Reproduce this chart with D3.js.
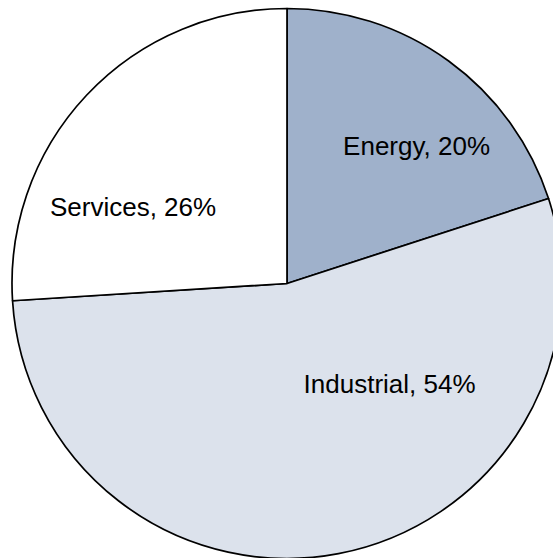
<!DOCTYPE html>
<html>
<head>
<meta charset="utf-8">
<script src="https://cdn.jsdelivr.net/npm/d3@7"></script>
<style>
    html, body { margin: 0; padding: 0; background: #fff; }
    svg { display: block; }
</style>
</head>
<body>
<div id="chart"></div>
<script>
// chart data
var categories = ["Energy", "Industrial", "Services"];
var shares = [20, 54, 26];
var colors = ["#9fb1cb", "#dce2ec", "#ffffff"];

// label placement inside each slice: angle (deg, clockwise from 12 o'clock) and fraction of radius
var labelAngles = [43.3, 134.4, 296.4];
var labelRadii = [0.687, 0.522, 0.625];

function init() {
    const w = 553;
    const h = 558;
    const cx = 287;
    const cy = 283.5;
    const r = 275;

    var dataset = categories.map((c, i) => {
        return { name: c, value: shares[i], color: colors[i] };
    });

    var svg = d3.select("#chart")
        .append("svg")
        .attr("width", w)
        .attr("height", h);

    var pie = d3.pie()
        .sort(null)
        .value((d) => d.value);

    var arc = d3.arc()
        .innerRadius(0)
        .outerRadius(r);

    var g = svg.append("g")
        .attr("transform", "translate(" + cx + "," + cy + ")");

    g.selectAll("path")
        .data(pie(dataset))
        .enter()
        .append("path")
        .attr("d", arc)
        .attr("fill", (d) => d.data.color)
        .attr("stroke", "#000")
        .attr("stroke-width", 1.7)
        .attr("stroke-linejoin", "round");

    // labels
    var rad = d3.scaleLinear().domain([0, 1]).range([0, r]);
    g.selectAll("text")
        .data(dataset)
        .enter()
        .append("text")
        .attr("x", (d, i) => rad(labelRadii[i]) * Math.sin(labelAngles[i] * Math.PI / 180))
        .attr("y", (d, i) => -rad(labelRadii[i]) * Math.cos(labelAngles[i] * Math.PI / 180))
        .attr("dy", "0.36em")
        .attr("text-anchor", "middle")
        .style("font-family", "'Liberation Sans', Arial, sans-serif")
        .style("font-size", "26px")
        .style("fill", "#000")
        .text((d) => d.name + ", " + d.value + "%");
}
window.onload = init;
</script>
</body>
</html>
